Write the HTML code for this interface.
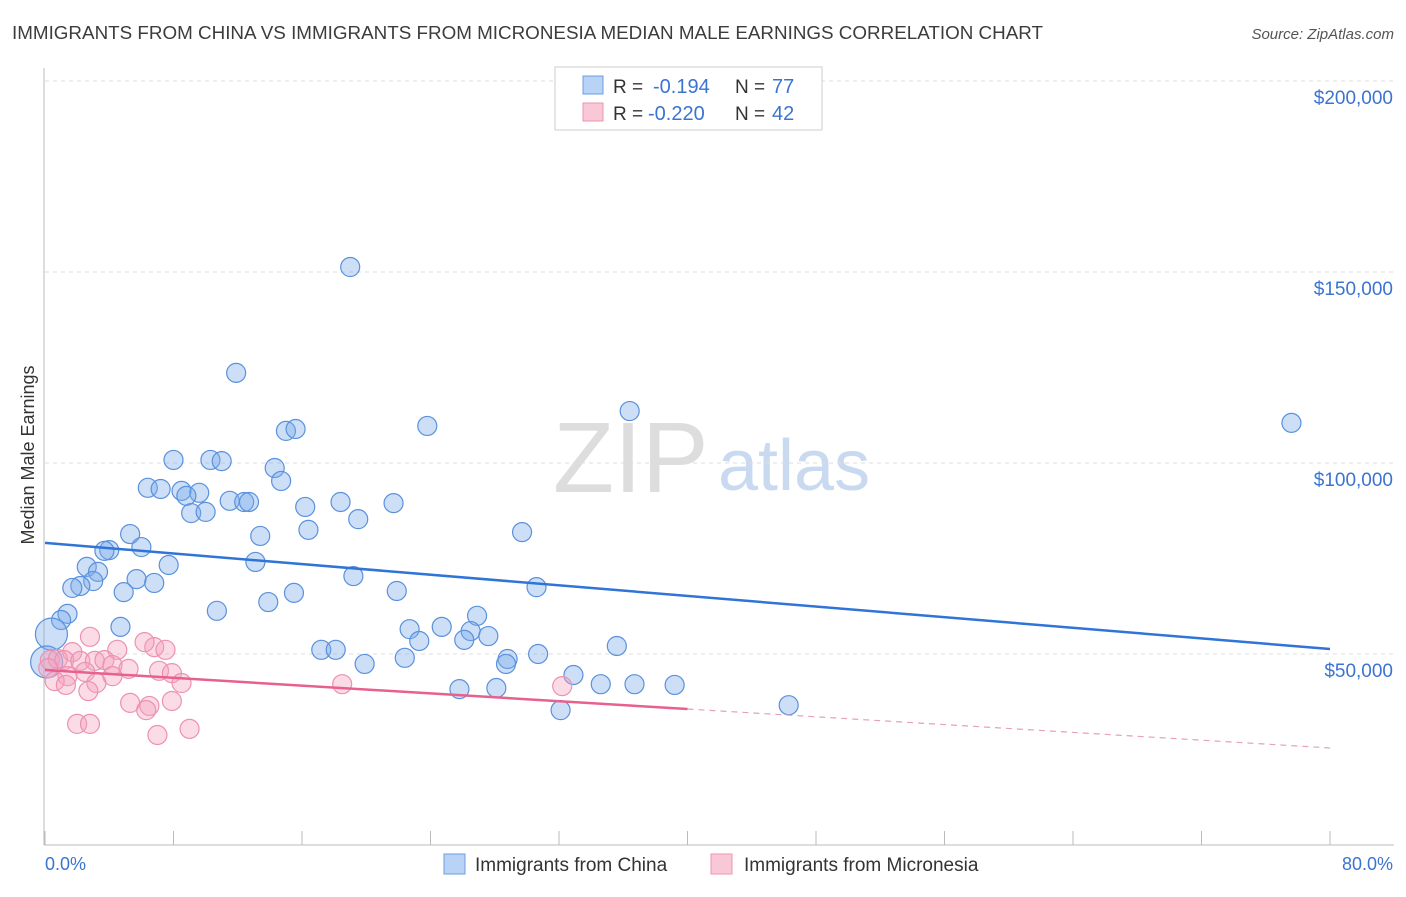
<!DOCTYPE html>
<html><head><meta charset="utf-8"><style>
body{margin:0;background:#fff;font-family:"Liberation Sans",sans-serif;}
svg text{font-family:"Liberation Sans",sans-serif;}
</style></head><body>
<svg id="chart" width="1406" height="892">
<text x="12" y="39" font-size="18" fill="#3c3c3c" textLength="1031" lengthAdjust="spacingAndGlyphs">IMMIGRANTS FROM CHINA VS IMMIGRANTS FROM MICRONESIA MEDIAN MALE EARNINGS CORRELATION CHART</text>
<text x="1394" y="39" font-size="15" fill="#555" text-anchor="end" font-style="italic">Source: ZipAtlas.com</text>
<text x="553" y="492" font-size="100" fill="#ddd" font-family="Liberation Serif">ZIP</text>
<text x="718" y="490" font-size="72" fill="#c9daf0">atlas</text>
<g id="grid"></g>
<line x1="44" y1="68" x2="44" y2="845" stroke="#bbb"/>
<line x1="44" y1="845" x2="1394" y2="845" stroke="#bbb"/>
<text transform="translate(34,455) rotate(-90)" font-size="18" fill="#333" text-anchor="middle">Median Male Earnings</text>
<text x="45" y="870" font-size="18" fill="#3b74d0">0.0%</text>
<text x="1393" y="870" font-size="18" fill="#3b74d0" text-anchor="end">80.0%</text>
<g id="pts"></g>
<g id="lines"></g>
<g>
<rect x="555" y="67" width="267" height="63" fill="#fff" stroke="#ccc"/>
<rect x="583" y="76" width="20" height="18" fill="#b8d3f5" stroke="#6d9de0"/>
<rect x="583" y="103" width="20" height="18" fill="#f8c8d7" stroke="#ec96b2"/>
<text x="613" y="93" font-size="19" fill="#333">R =</text>
<text x="653" y="93" font-size="20" fill="#3b74d0">-0.194</text>
<text x="735" y="93" font-size="19" fill="#333">N =</text>
<text x="772" y="93" font-size="20" fill="#3b74d0">77</text>
<text x="613" y="120" font-size="19" fill="#333">R =</text>
<text x="648" y="120" font-size="20" fill="#3b74d0">-0.220</text>
<text x="735" y="120" font-size="19" fill="#333">N =</text>
<text x="772" y="120" font-size="20" fill="#3b74d0">42</text>
</g>
<g>
<rect x="444" y="854" width="21" height="20" fill="#b8d3f5" stroke="#6d9de0"/>
<text x="475" y="871" font-size="19" fill="#333">Immigrants from China</text>
<rect x="711" y="854" width="21" height="20" fill="#f8c8d7" stroke="#ec96b2"/>
<text x="744" y="871" font-size="19" fill="#333">Immigrants from Micronesia</text>
</g>
</svg>
<script>
const yTicks=[50000,100000,150000,200000];
const yTickLabels=["$50,000","$100,000","$150,000","$200,000"];
const xTicks=[0,8,16,24,32,40,48,56,64,72,80];
const chinaX=[19.0,11.9,36.4,77.6,23.8,15.0,15.6,8.0,10.3,11.0,14.3,14.7,6.4,7.2,8.5,9.6,8.8,11.5,12.4,12.7,18.4,21.7,16.2,9.1,10.0,19.5,16.4,29.7,5.3,13.4,6.0,4.0,3.7,13.1,7.7,2.6,3.3,19.2,5.7,3.0,2.2,1.7,6.8,30.6,4.9,21.9,15.5,13.9,10.7,1.4,1.0,26.9,4.7,22.7,24.7,26.5,27.6,0.4,26.1,23.3,35.6,17.2,18.1,30.7,28.8,22.4,19.9,28.7,32.9,0.1,25.8,28.1,34.6,36.7,39.2,32.1,46.3];
const chinaY=[151.3,123.6,113.6,110.5,109.7,108.4,108.9,100.8,100.8,100.5,98.7,95.3,93.5,93.2,92.7,92.2,91.4,90.1,89.8,89.8,89.8,89.5,88.5,86.9,87.2,85.3,82.5,81.9,81.4,80.9,78.0,77.2,77.0,74.1,73.3,72.8,71.5,70.4,69.6,69.1,67.8,67.3,68.6,67.5,66.2,66.5,66.0,63.6,61.3,60.5,58.9,60.0,57.1,56.5,57.1,56.0,54.7,55.2,53.7,53.4,52.1,51.1,51.1,50.0,48.7,49.0,47.4,47.4,44.5,47.9,40.8,41.1,42.1,42.1,41.9,35.3,36.6];
const microX=[2.8,6.8,7.5,6.2,4.5,1.7,0.3,0.8,1.2,2.2,3.1,3.7,4.2,0.2,5.2,7.1,7.9,2.5,1.4,4.2,0.6,3.2,1.3,8.5,18.5,32.2,2.7,5.3,7.9,6.5,6.3,2.0,2.8,9.0,7.0];
const microY=[54.5,51.8,51.1,53.1,51.1,50.5,48.4,48.7,48.4,48.2,48.2,48.4,47.1,46.3,46.1,45.6,45.0,45.3,44.2,44.2,42.9,42.4,41.9,42.4,42.1,41.6,40.3,37.2,37.7,36.4,35.3,31.7,31.7,30.4,28.8];
const chinaTrend=[79.1,51.3];
const microTrend=[45.8,35.6,25.4];
const X=v=>45+v/80*1285, Y=v=>845-v/50000*191;
const NS="http://www.w3.org/2000/svg";
function mk(t,a,p){const e=document.createElementNS(NS,t);for(const k in a)e.setAttribute(k,a[k]);p.appendChild(e);return e;}
const grid=document.getElementById('grid');
yTicks.forEach((t,i)=>{
 const l=mk('line',{x1:45,x2:1394,y1:Y(t),y2:Y(t),stroke:'#ddd','stroke-dasharray':'4,4'},grid);
 
 
 const tx=mk('text',{x:1393,y:Y(t)+23,'font-size':19,fill:'#3b74d0','text-anchor':'end'},grid);
 tx.textContent=yTickLabels[i];
 
 
});
xTicks.forEach(t=>{
 const l=mk('line',{x1:X(t),x2:X(t),y1:831,y2:845,stroke:'#bbb'},grid);
 
 
});
const pts=document.getElementById('pts');
chinaX.forEach((x,i)=>{
 const r=(x<0.5)?16:9.5;
 const c=mk('circle',{cx:X(x),cy:Y(chinaY[i]*1000),r:r,fill:'rgba(120,170,235,0.38)',stroke:'#5b91dc','stroke-width':1.2},pts);
 
 
});
microX.forEach((x,i)=>{
 const c=mk('circle',{cx:X(x),cy:Y(microY[i]*1000),r:9.5,fill:'rgba(245,160,190,0.38)',stroke:'#ec92b0','stroke-width':1.2},pts);
 
 
});
const lines=document.getElementById('lines');
const bl=mk('line',{x1:X(0),y1:Y(chinaTrend[0]*1000),x2:X(80),y2:Y(chinaTrend[1]*1000),stroke:'#2f74d6','stroke-width':2.5},lines);


const pl=mk('line',{x1:X(0),y1:Y(microTrend[0]*1000),x2:X(40),y2:Y(microTrend[1]*1000),stroke:'#e8608c','stroke-width':2.5},lines);


const pd=mk('line',{x1:X(40),y1:Y(microTrend[1]*1000),x2:X(80),y2:Y(microTrend[2]*1000),stroke:'#e8a0b8','stroke-width':1.2,'stroke-dasharray':'6,5'},lines);


</script>
</body></html>
